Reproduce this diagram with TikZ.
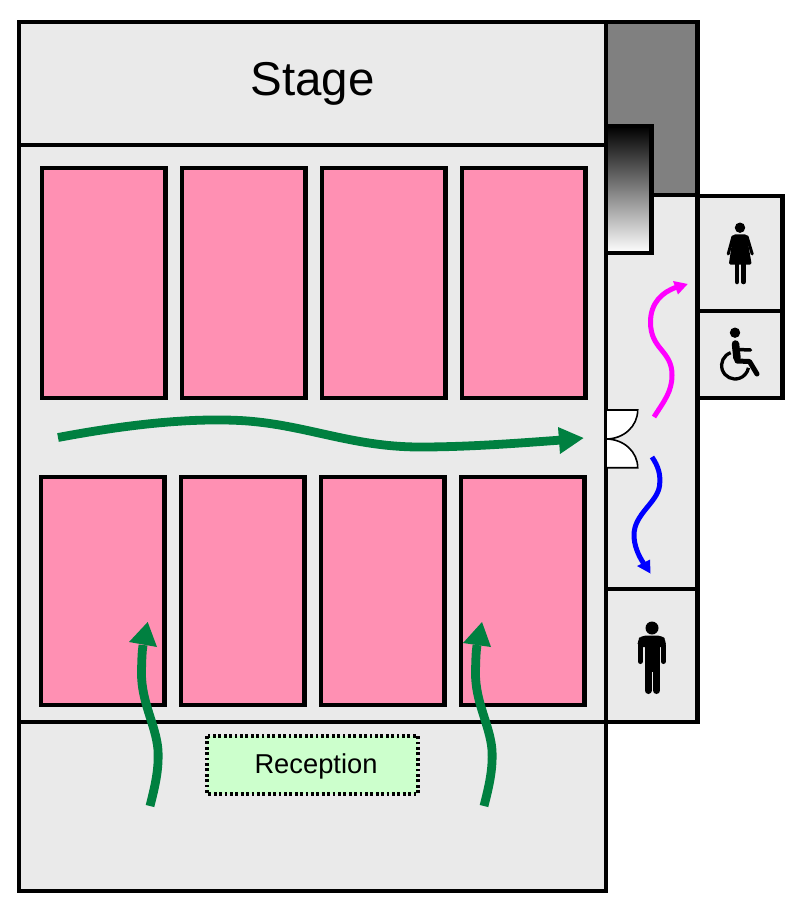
\documentclass[tikz,border=0pt]{standalone}
\usepackage{fontspec}
\setmainfont{Liberation Sans}
\definecolor{roomgrey}{HTML}{EAEAEA}
\definecolor{seatpink}{HTML}{FF90B3}
\definecolor{flowgreen}{HTML}{008040}
\definecolor{deskgreen}{HTML}{CCFFCC}
\definecolor{flowmagenta}{HTML}{FF00FF}
\tikzset{
  room/.style={draw=black,line width=4.7pt,fill=roomgrey,line join=miter},
  seats/.style={draw=black,line width=4.7pt,fill=seatpink},
  bigflow/.style={draw=flowgreen,line width=8.8pt},
  headgreen/.style={fill=flowgreen},
  door/.style={draw=black,line width=1.6pt,fill=white},
  icon/.style={fill=black},
  limb/.style={draw=black,line cap=round,line join=round}
}
\begin{document}
\begin{tikzpicture}[x=1pt,y=-1pt]
\useasboundingbox (0,0) rectangle (802,908);
\fill[white] (0,0) rectangle (802,908);
% side rooms
\draw[room] (606,195) rectangle (697.7,722);
\draw[room,fill=gray] (606,22) rectangle (697.7,195);
\draw[room] (697.7,196) rectangle (782.5,311);
\draw[room] (697.7,311) rectangle (782.5,398);
\draw[room] (606,589) rectangle (697.7,722);
% main hall
\draw[room] (19,22) rectangle (606,891);
\draw[room] (19,22) rectangle (606,145);
\draw[room] (19,145) rectangle (606,722);
\draw[room] (19,722) rectangle (606,891);
% stair
\draw[line width=4.7pt,draw=black,top color=black,bottom color=white] (606,126) rectangle (651.7,253);
% seat blocks
\foreach \x in {42,182,322,462} \draw[seats] (\x,168) rectangle ++(123.5,230);
\foreach \x in {41,181,321,461} \draw[seats] (\x,477) rectangle ++(123.5,228);
% doors
\draw[door] (606,410) -- (637.7,410) .. controls (637.7,426) and (624,439) .. (606,439) -- cycle;
\draw[door] (606,439) .. controls (624,439) and (637.7,452) .. (637.7,467.7) -- (606,467.7) -- cycle;
% texts
\node[font=\fontsize{47.5}{47.5}\selectfont,inner sep=0pt] (stage) at (312.5,84) {Stage};
\draw[line width=3.2pt,dash pattern=on 2.8pt off 2.6pt,fill=deskgreen] (207,736) rectangle (418,794);
\node[font=\fontsize{27.3}{27.3}\selectfont,inner sep=0pt] (reception) at (316,766) {Reception};
% flows
\draw[bigflow] (58,437.5) .. controls (130,424) and (190,418) .. (240,420.5) .. controls (305,424) and (350,447) .. (420,447) .. controls (470,447) and (520,443) .. (562,440);
\fill[headgreen] (583.5,438) -- (558,427) -- (560,454) -- cycle;
\draw[bigflow] (150,806) .. controls (155,786) and (159,770) .. (158,750) .. controls (156,725) and (141,702) .. (141.5,672) .. controls (141.7,660) and (142,652) .. (143,645);
\fill[headgreen] (147.7,622) -- (129,642) -- (157,647) -- cycle;
\draw[bigflow] (484,806) .. controls (489,786) and (493,770) .. (492,750) .. controls (490,725) and (475,702) .. (475.5,672) .. controls (475.7,660) and (476,652) .. (477,645);
\fill[headgreen] (482,622) -- (463,643) -- (491,647) -- cycle;
\draw[line width=5pt,draw=flowmagenta] (654,417) .. controls (664,401) and (672,392) .. (672,375) .. controls (672,350) and (650.5,350) .. (650.5,322) .. controls (650.5,303) and (662,292) .. (677,287);
\fill[flowmagenta] (687.7,284) -- (673,281) -- (678,294.5) -- cycle;
\draw[blue,line width=5pt] (652,457) .. controls (658,466) and (661,474) .. (659.5,486) .. controls (657,503) and (634,514) .. (634,535) .. controls (634,545) and (638,555) .. (644,564);
\fill[blue] (650.5,573.5) -- (637,566) -- (650,559.5) -- cycle;
% man
\fill[icon] (652,628) circle[radius=6.5pt];
\fill[icon,rounded corners=4pt] (637.7,647) -- (637.7,640) -- (641,635.7) -- (662.5,635.7) -- (665.8,640) -- (665.8,647) -- cycle;
\fill[icon] (644.5,640) rectangle (660,672);
\draw[limb,line width=5pt] (640.3,645) -- (640.3,661.5);
\draw[limb,line width=5pt] (663.2,645) -- (663.2,661.5);
\draw[limb,line width=7pt] (648,670) -- (648,690.5);
\draw[limb,line width=7pt] (656.5,670) -- (656.5,690.5);
% woman
\fill[icon] (740,227.7) circle[radius=5.2pt];
\fill[icon,rounded corners=1.5pt] (733.5,234.3) -- (746.5,234.3) -- (748,243) -- (751.7,264.5) -- (728.8,264.5) -- (732,243) -- cycle;
\draw[limb,line width=3pt] (733,236.5) -- (728.2,254);
\draw[limb,line width=3pt] (747,236.5) -- (752.2,254);
\draw[limb,line width=4.5pt] (737,264) -- (737,282);
\draw[limb,line width=4.5pt] (743.5,264) -- (743.5,282);
% wheelchair
\fill[icon] (735,332.7) circle[radius=5.2pt];
\draw[limb,line width=7.5pt] (735.5,344) -- (737,358);
\draw[limb,line width=3.5pt] (738,349.5) -- (750.5,350);
\draw[limb,line width=5pt] (737,361) -- (749.5,361.5) -- (757,374);
\draw[draw=black,line width=3.3pt] (730.7,352.7) arc[start angle=109,end angle=350,radius=13.5pt];
\end{tikzpicture}
\end{document}
